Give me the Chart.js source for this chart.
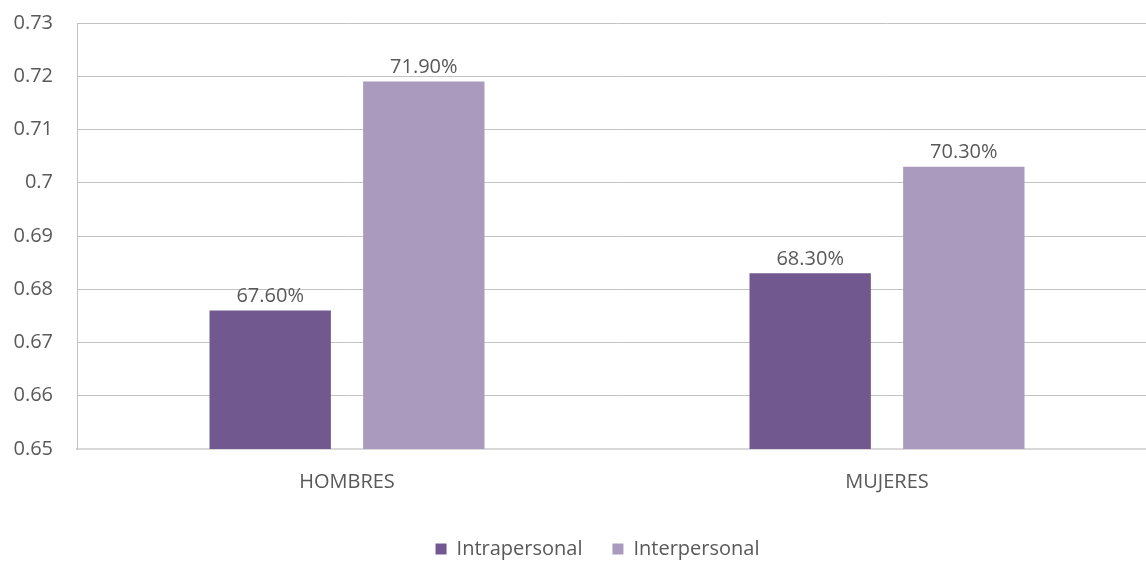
<!DOCTYPE html>
<html>
<head>
<meta charset="utf-8">
<script src="https://cdn.jsdelivr.net/npm/chart.js@4/dist/chart.umd.min.js"></script>
<style>
  html, body { margin: 0; padding: 0; background: #fff; overflow: hidden; }
  #wrap { width: 1160px; height: 587px; position: relative; }
</style>
</head>
<body>
<div id="wrap"><canvas id="chart"></canvas></div>
<script>
const categories = ['HOMBRES', 'MUJERES'];
const intrapersonal = [0.676, 0.683];
const interpersonal = [0.719, 0.703];
const yTickLabels = ['0.65', '0.66', '0.67', '0.68', '0.69', '0.7', '0.71', '0.72', '0.73'];

const textColor = '#595959';
const fontFamily = '"Open Sans", "DejaVu Sans", sans-serif';

// percentage labels above each bar
const valueLabels = {
    id: 'valueLabels',
    afterDatasetsDraw(chart) {
        const ctx = chart.ctx;
        ctx.save();
        ctx.font = '20px ' + fontFamily;
        ctx.fillStyle = textColor;
        ctx.textAlign = 'center';
        ctx.textBaseline = 'middle';
        chart.data.datasets.forEach((ds, i) => {
            chart.getDatasetMeta(i).data.forEach((bar, j) => {
                ctx.fillText((ds.data[j] * 100).toFixed(2) + '%', bar.x, bar.y - 14);
            });
        });
        ctx.restore();
    }
};

// nudge the legend a little to the right
const legendShift = {
    id: 'legendShift',
    afterUpdate(chart) {
        chart.legend.left += 19;
        chart.legend.right += 19;
    }
};

new Chart(document.getElementById('chart'), {
    type: 'bar',
    data: {
        labels: categories,
        datasets: [
            { label: 'Intrapersonal', data: intrapersonal, backgroundColor: '#71598f' },
            { label: 'Interpersonal', data: interpersonal, backgroundColor: '#a99abe' }
        ]
    },
    options: {
        responsive: true,
        maintainAspectRatio: false,
        animation: false,
        layout: { padding: { top: 23, right: 3, bottom: 18, left: 0 } },
        datasets: {
            bar: { categoryPercentage: 0.569, barPercentage: 0.79 }
        },
        scales: {
            x: {
                grid: { display: false },
                border: { display: true, color: '#d9d9d9', width: 2 },
                ticks: { color: textColor, font: { family: fontFamily, size: 20 }, padding: 13 },
                afterFit(scale) { scale.height = 60; }
            },
            y: {
                min: 0.65,
                max: 0.73,
                grid: { color: '#c3c3c3', drawTicks: false },
                border: { display: true, color: '#c3c3c3' },
                ticks: {
                    stepSize: 0.01,
                    color: textColor,
                    padding: 24,
                    font: { family: fontFamily, size: 20 },
                    callback: (v, i) => yTickLabels[i]
                },
                afterFit(scale) {
                    scale.width = 77;
                    scale.paddingTop = 0;
                    scale.paddingBottom = 0;
                }
            }
        },
        plugins: {
            legend: {
                position: 'bottom',
                labels: {
                    boxWidth: 11,
                    boxHeight: 11,
                    padding: 30,
                    color: textColor,
                    font: { family: fontFamily, size: 20 }
                }
            },
            tooltip: { enabled: false }
        }
    },
    plugins: [valueLabels, legendShift]
});
</script>
</body>
</html>
